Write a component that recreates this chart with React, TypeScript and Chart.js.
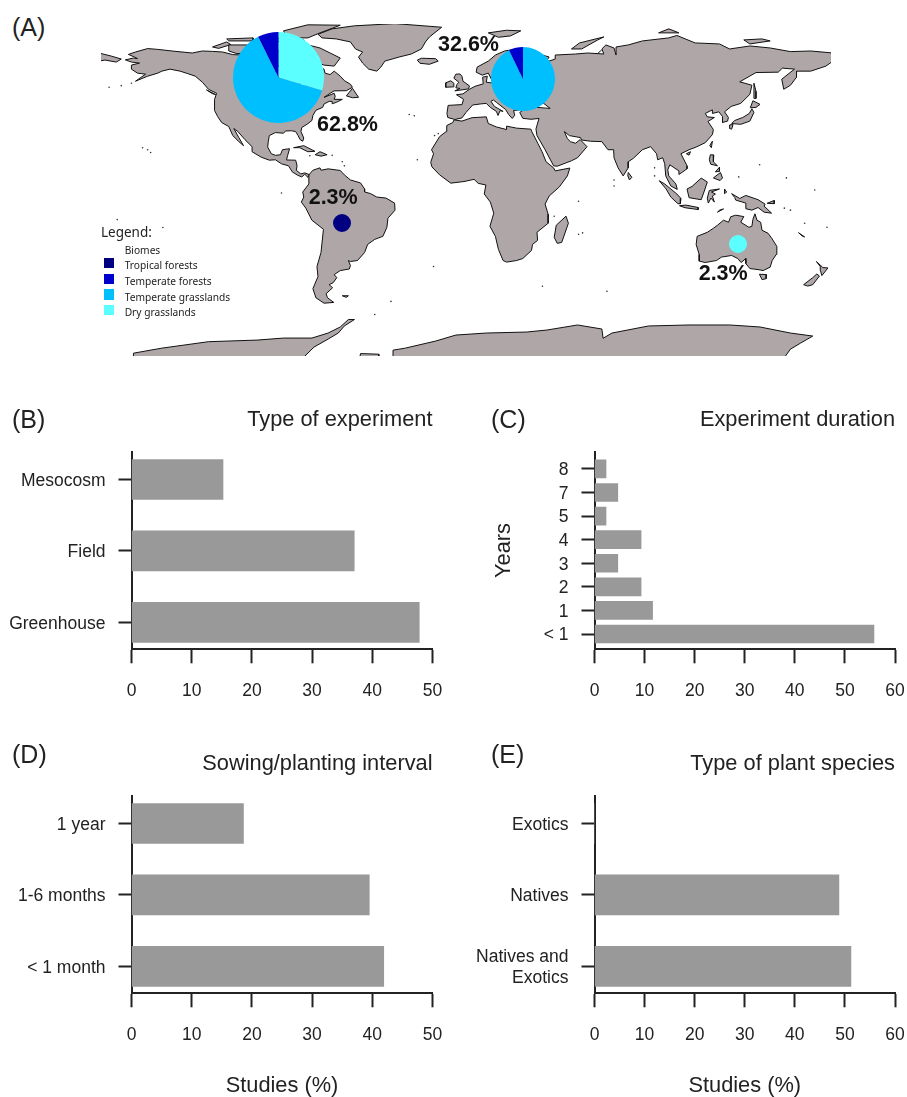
import React, { useEffect, useRef } from "react";
import { Chart, registerables } from "chart.js";

Chart.register(...registerables);

// ---------- data: bar panels ----------
const experimentTypes = ["Greenhouse", "Field", "Mesocosm"];
const experimentTypeValues = [47.8, 37.0, 15.2];
const durationYears = ["< 1", "1", "2", "3", "4", "5", "7", "8"];
const durationValues = [55.8, 11.6, 9.3, 4.65, 9.3, 2.3, 4.65, 2.3];
const intervals = ["< 1 month", "1-6 months", "1 year"];
const intervalValues = [41.9, 39.5, 18.6];
const plantTypes = ["Natives and\nExotics", "Natives", "Exotics"];
const plantTypeValues = [51.2, 48.8, 0];

// ---------- data: biome pies ----------
const biomeNames = ["Tropical forests", "Temperate forests", "Temperate grasslands", "Dry grasslands"];
const northAmericaPieBiomes = ["Dry grasslands", "Temperate grasslands", "Temperate forests"];
const northAmericaPieCounts = [8, 17, 2];
const europePieBiomes = ["Temperate grasslands", "Temperate forests"];
const europePieCounts = [13, 1];
const southAmericaPieBiomes = ["Tropical forests"];
const southAmericaPieCounts = [1];
const australiaPieBiomes = ["Dry grasslands"];
const australiaPieCounts = [1];

// ---------- data: map outlines [lon, lat] ----------
const northAmerica = [[-168,65.6],[-164,66.5],[-162,66.2],[-163.5,67],[-166.5,68.3],[-163,69.5],[-157,71.2],[-152,70.8],[-145,70],[-141,69.6],[-135,69],[-130,70],[-125,69.8],[-120,69.5],[-115,68.2],[-110,68],[-105,68.2],[-100,68],[-96,68.5],[-95,71.5],[-92,69.8],[-88,68.5],[-85,69.5],[-82,69.5],[-81.5,67.5],[-86,66.5],[-87,65],[-90,64],[-93,62],[-94.5,59],[-92.5,57],[-88,56.5],[-85,55.3],[-82.3,55],[-82,52.9],[-80,51.3],[-79,52],[-79,54.5],[-77,56],[-78,58.5],[-77.5,60.5],[-78,62.4],[-73.5,62.4],[-70,61],[-69.5,59],[-67,58.3],[-65,60],[-62,57.5],[-60,55.3],[-57,53.5],[-56,52],[-59,50.3],[-65,50.2],[-67,49],[-70,47],[-65,49],[-64.5,47.5],[-65,46],[-61,46],[-64,44.5],[-66,43.8],[-66,45],[-67.5,45],[-70,43.7],[-70.7,42],[-74,40.6],[-75.5,38],[-76,35.5],[-78,33.9],[-81,32],[-81.4,30],[-80,26.8],[-80.5,25.2],[-81.8,26],[-82.8,28],[-84,30],[-86,30.4],[-89,30.3],[-90,29.2],[-94,29.5],[-97,28],[-97.5,25],[-97.8,22.3],[-96,19],[-94,18.2],[-91.5,18.5],[-90.5,21],[-87,21.5],[-88,18],[-88.5,15.9],[-84,15.8],[-83.3,13],[-83.7,10.8],[-81.5,9],[-79.5,9.5],[-77.4,8.7],[-77.9,7.2],[-79.5,8.8],[-81,7.5],[-83,8.3],[-85.7,10],[-87.5,13],[-91,14],[-94,16],[-97,15.8],[-101,17.3],[-105.5,20],[-105.5,22.5],[-109,26],[-112.5,30],[-114.5,31.5],[-112,27],[-109.7,23],[-112,25],[-115,28],[-117,32.5],[-120.5,34.5],[-122.5,37.5],[-124,40.5],[-124,46],[-123,49],[-127,51],[-130,54.5],[-133.5,57.5],[-137,58.7],[-141,60],[-146,61],[-150,60],[-152,59],[-157,57.5],[-163,55],[-158,58.5],[-162,59],[-165,61],[-165,63],[-161,64],[-165,64.5]];
const greenland = [[-73,78.3],[-66,81],[-55,82.5],[-35,83.6],[-12,81.8],[-18,77],[-20,74.5],[-22,71],[-27,68.5],[-33,67],[-40,65],[-42,62],[-44,60],[-48,61],[-51,64],[-53,67],[-51,69.5],[-54.5,71],[-57,74.5],[-64,76],[-71,76.5]];
const baffin = [[-80,73.5],[-72,71.5],[-67,69],[-62,66.5],[-65,62.5],[-70,63],[-74,64.5],[-78,65],[-73,68],[-80,70],[-89,71.5],[-85,73.5]];
const victoria = [[-117,73],[-105,73],[-101,69.5],[-113,68.7],[-117,70]];
const banks = [[-125,72],[-118,74.5],[-116,73.2],[-122,71.3]];
const ellesmere = [[-90,80],[-78,83],[-62,82.8],[-72,79],[-78,76.5],[-88,76.5]];
const devon = [[-96,76.5],[-80,75.5],[-80,74.5],[-92,74.5]];
const melville = [[-118,76],[-105,76.5],[-105,75],[-117,75]];
const southampton = [[-87,65.5],[-81,64],[-85,62.8]];
const newfoundland = [[-59,47.7],[-56,51.5],[-53,47],[-56,46.8]];
const cuba = [[-85,22],[-80,23],[-74.5,20.2],[-78,20],[-82,22]];
const hispaniola = [[-74.4,18.5],[-72,20],[-68.5,18.5],[-71.5,17.8]];
const vancouver = [[-128,50.7],[-123.5,48.4],[-125,48.8]];
const southAmerica = [[-77.5,8.5],[-75.5,10.8],[-72,12],[-71.5,10.8],[-68,11.5],[-62,10.7],[-60,8.5],[-57,6],[-52,4.5],[-50,1.5],[-50,0],[-47,-0.8],[-44,-2.5],[-39.5,-3],[-35.2,-5.5],[-35,-9],[-38.5,-13],[-39,-17.5],[-41,-22],[-45,-23.5],[-48.5,-26],[-50,-30],[-53.5,-34],[-57,-34.5],[-58,-34],[-57,-36.5],[-57.5,-38.2],[-62,-39],[-65,-41],[-63.7,-42.5],[-65.5,-45],[-67.5,-46],[-65.8,-47.5],[-69,-50.5],[-68.3,-52.5],[-65.2,-54.8],[-70,-55.2],[-74,-52.5],[-75.5,-48],[-73,-42],[-73.5,-37],[-71.5,-30],[-70.3,-18.5],[-76,-14],[-79,-8],[-81.2,-5],[-80,-2.5],[-80.5,0],[-77.5,4],[-77.5,7]];
const falklands = [[-61,-51.5],[-58,-51.5],[-59,-52.3]];
const africa = [[-5.9,35.8],[-2,35.2],[3,36.9],[10,37.3],[11,34],[15,32.3],[20,31],[20,32.7],[25,31.7],[32,31.2],[32.5,29.9],[35.5,24],[37.5,20],[39.5,15],[43.2,12],[44,10.5],[51.2,11.9],[50,8],[46,2.5],[41,-2],[39,-6],[40.5,-11],[40.5,-15.5],[35,-20],[35.3,-24],[32.8,-26],[32.3,-29],[28,-33],[25,-34],[20,-34.8],[18.3,-34],[16,-28.5],[14.5,-22],[11.8,-17],[13.7,-10.5],[12,-5],[9,-1],[9.8,3.5],[6,4.3],[4,6.3],[-1,5.2],[-7.5,4.4],[-13,8.5],[-16.8,12.5],[-17.4,14.7],[-16,19],[-17,21],[-13,27.5],[-9.8,30],[-9.5,33],[-6.5,34.5]];
const eurasia = [[-5.5,36],[-9,37],[-9.4,39],[-8.8,43],[-2,43.4],[-1.2,46],[-4.7,48.3],[-1.5,48.7],[1.5,50.9],[4.5,52.5],[8.5,53.7],[8.2,57],[10.5,57.5],[10,54.5],[14,54],[19,54.5],[21,56.5],[24,57.5],[24,59.3],[30,60],[23,60],[21.3,61],[21.5,63],[25.5,65.2],[22,65.7],[17.5,62],[18.5,60],[16.5,57],[14.3,55.5],[12.5,56],[11,59],[8,58],[5,59.5],[5.5,62],[11,65],[14.5,68],[19,70],[25,71],[31,70],[41,67],[40,65.5],[35,64.3],[38,64],[44,66],[44,68],[54,68.5],[60,69],[68,68.5],[67,71],[69,73],[73,71.5],[74,68],[74,72],[80,73],[87,75],[100,76.5],[104,77.7],[113,74],[125,73.5],[130,71],[140,72.5],[150,71.5],[160,69.7],[170,70],[181,69],[181,65],[177.5,62.5],[170,60],[163,60],[163,57],[160,53],[156.7,51],[155.7,56],[162,61],[156,61.5],[154,59.5],[143,59.3],[135,54.7],[141,53],[140,48.5],[135.5,44],[130.8,42.5],[127.5,39.8],[129.4,37],[129,35.2],[126.4,34.5],[126.5,37.5],[124.7,39.8],[121.5,39],[121.5,40.8],[118,39],[119,37.3],[122.5,37],[119.3,35],[122,31],[121.5,28.5],[118,24.5],[113.5,22.3],[110,21],[106,19],[109,13],[109,11.5],[105,8.7],[105,10.5],[100.5,13.5],[99.5,11],[100,8],[103.5,4],[104.2,1.3],[101,3],[98.5,8],[98,14],[97,17],[94.5,16],[94,19],[91,22.5],[87,21],[82.5,16.7],[80,15],[80,12],[77.5,8],[75,12],[73,17],[72.8,21],[70,21],[67,25],[61.5,25.2],[57,25.8],[56.5,27],[51,28],[48.5,30],[50,26.5],[51.5,25],[54,24.2],[56.3,26],[59.7,22.5],[55,17],[52,15.5],[45,12.8],[43.2,13],[39,21],[35,28],[34.5,31.3],[36,36.5],[32,36.1],[28,36.6],[26.5,39.5],[29,41.2],[35,42],[41.5,41.5],[37,45],[38.5,47],[35,46],[33,45],[31,46.5],[28.5,43.5],[28.5,41.3],[26,40.7],[23.5,40.5],[24,38],[22.8,36.5],[21,38.5],[19.5,41],[15,44.5],[13.5,45.7],[12.3,45],[14,42.5],[18.3,40],[16.8,40.4],[15.8,38],[15,40],[12,42],[10,44],[7,43.7],[3.3,43.2],[0,39.5],[-2,36.8]];
const chukotka = [[-181,69],[-175,67.5],[-170,66],[-172.5,64.5],[-178,65.5],[-181,65]];
const greatBritain = [[-5.5,50.2],[1.3,51.2],[1.7,52.7],[-1.5,55],[-2,57.5],[-3,58.6],[-5,58.5],[-6,56.5],[-3.5,54.5],[-4.5,53.3],[-5,51.7],[-3,51.4]];
const ireland = [[-10,52],[-6.2,52.2],[-6,54],[-7.5,55.2],[-10,54.2]];
const iceland = [[-24,65.5],[-22,66.4],[-15,66.2],[-13.7,65],[-18,63.4],[-22.7,63.9]];
const svalbard = [[11,79],[20,80.3],[27,80],[22,77.5],[16,76.8]];
const novayaZemlya = [[52,71],[56,74],[68,77],[65,75.5],[57,71]];
const severnaya = [[95,79],[105,79],[100,81]];
const newSiberian = [[137,75.5],[146,76],[150,75],[140,73.5]];
const sakhalin = [[142,54],[143,50],[143,46.5],[142,46.5],[142,50]];
const honshu = [[131,34],[135.5,33.6],[140,35.2],[142,39.5],[141,41.3],[139.7,39],[136.5,37],[132.5,35.5]];
const hokkaido = [[140.2,41.8],[141.5,45.3],[145,43.5],[143,42]];
const kyushu = [[130,33.3],[131.7,33.5],[131,31.2],[130,31.5]];
const taiwan = [[120.2,23],[121.5,25.2],[121,22]];
const hainan = [[108.7,19],[110.7,20],[110,18.3]];
const sriLanka = [[79.8,8],[80,9.7],[81.8,7.3],[80.6,6]];
const sumatra = [[95.3,5.6],[98,4],[104,-1],[106,-3.2],[105.7,-5.8],[104.5,-5.8],[101,-2.5],[98.7,1.5]];
const java = [[105.3,-6.8],[108.5,-6.5],[114.5,-7.7],[114.5,-8.7],[108,-7.8]];
const borneo = [[109,1.5],[111.5,2.8],[116,6.9],[119,5],[117.7,1],[116,-3.8],[114,-3.5],[110,-2.8]];
const sulawesi = [[119.5,-5.5],[119,-3],[120,0.8],[125,1.5],[121,0],[123,-1],[121.5,-2],[122.5,-5],[120.8,-3]];
const newGuinea = [[131,-0.8],[135,-3.2],[138,-1.7],[144,-3.8],[147.5,-6],[147,-7],[150.7,-10.5],[147,-10],[144,-7.7],[141,-9],[138,-8.3],[138,-5.5],[133,-4],[132.5,-2.7]];
const luzon = [[120.5,18.5],[122.2,18.4],[122,15],[124,13],[120.7,13.8],[120,16]];
const mindanao = [[122,7],[125.5,9.7],[126.5,7],[125.3,5.7]];
const visayas = [[123,10],[125,12.3],[125,10.3]];
const timor = [[124,-10],[127,-8.4],[125,-9]];
const halmahera = [[127.5,1.5],[128.5,0],[127.7,-0.8]];
const newBritain = [[148.5,-5.6],[152,-4.2],[152,-5.8]];
const newCaledonia = [[164,-20.2],[167,-22.3],[166,-22]];
const australia = [[114,-22],[113.5,-26],[115,-31],[115,-34.3],[118,-35],[123.5,-34],[126,-32.3],[131,-31.5],[134,-33],[135.7,-35],[138,-33],[138,-35.5],[140,-38],[144,-38.5],[146.5,-39],[150,-37.3],[151,-34],[153,-31],[153.3,-27],[150.8,-23],[149,-20.5],[146,-19],[145.3,-15],[143.5,-14],[142.5,-10.8],[141.5,-13.5],[141,-17],[139.5,-17.5],[135.5,-15],[137,-12.2],[133,-11.5],[130.5,-12.3],[129.5,-15],[127,-14],[124,-16.5],[122,-18],[119,-20]];
const tasmania = [[144.7,-40.8],[148.2,-41],[148,-43],[146,-43.5]];
const newZealandSouth = [[166.5,-46],[171,-42.5],[173,-40.7],[174.3,-41.7],[171,-46],[168.5,-46.7]];
const newZealandNorth = [[172.8,-34.5],[176,-37.5],[178.5,-37.7],[175.5,-41.5],[174.8,-39],[174.7,-37]];
const madagascar = [[49.3,-12],[50.5,-15.5],[47.2,-25],[45,-25.5],[43.5,-22.5],[44.5,-16.5]];
const antarcticaWest = [[-164,-85],[-164,-80],[-150,-77.5],[-127,-74.3],[-103,-73.5],[-90,-72.5],[-76,-72.5],[-68,-70],[-62,-67],[-58,-63.3],[-55,-63.3],[-60,-66.5],[-63,-70],[-68,-73],[-75,-77],[-83,-85]];
const filchnerShelf = [[-53,-85],[-52,-80.2],[-43,-80.5],[-43,-85]];
const antarcticaEast = [[-36,-85],[-36,-78.5],[-30,-77.5],[-15,-74],[-5,-71],[10,-70],[30,-69.5],[40,-68.5],[55,-66],[67,-68],[67.6,-72.6],[72,-70],[90,-66.5],[110,-66],[130,-66],[145,-67],[160,-70],[171,-71.5],[165,-75],[160,-78],[155,-85]];
const landMasses = [northAmerica, greenland, baffin, victoria, banks, ellesmere, devon, melville, southampton, newfoundland, cuba, hispaniola, vancouver, southAmerica, falklands, africa, eurasia, chukotka, greatBritain, ireland, iceland, svalbard, novayaZemlya, severnaya, newSiberian, sakhalin, honshu, hokkaido, kyushu, taiwan, hainan, sriLanka, sumatra, java, borneo, sulawesi, newGuinea, luzon, mindanao, visayas, timor, halmahera, newBritain, newCaledonia, australia, tasmania, newZealandSouth, newZealandNorth, madagascar, antarcticaWest, filchnerShelf, antarcticaEast];
const europeAsiaDivide = [[66.9,70.5],[59.5,63.9],[57.9,55.6],[61,51.5],[48.8,51.4],[46.4,47.3],[48.8,42.3],[41.5,41.5]];
const smallIslands = [[-155.5,19.6],[-157,21],[-159.5,22],[-28,38.5],[-25.5,37.8],[-15.5,28],[-13.7,29],[-24,16],[-91,-0.5],[69.5,-49.3],[55.5,-21],[57.5,-20.3],[43.5,-12],[55.5,-4.6],[-37,-54.3],[178,-17.5],[-172,-13.7],[73,3],[73,6],[-176,52],[-170,52.8],[-165,54],[-60,13],[-61,15],[-66,18.2],[-77,18],[-45,-60.8],[-16,-37],[37.7,-46.8],[160,-9],[157,-8],[167,-15.5],[-149.5,-17.6],[144.8,13.5],[134.5,7.5],[158,7],[172,1],[93,12],[93,8]];

// ---------- styles / layout ----------
const INK = "#222222";
const SANS = "'Liberation Sans', Arial, sans-serif";
const LAND = "#AFA6A8";
const BIOME_COLORS: Record<string, string> = {
  "Tropical forests": "#000080",
  "Temperate forests": "#0000CD",
  "Temperate grasslands": "#00BFFF",
  "Dry grasslands": "#5CFFFF",
};

type Panel = {
  title: string; cats: string[]; vals: number[]; xMax: number;
  left: number; top: number; width: number; height: number;
  axisLeft: number; axisRight: number; xBlock: number;
  yMin: number; yMax: number; thickness: number;
  yTitle?: string; xTitle?: string;
};

const Y3 = { yMin: 0.622, yMax: 3.389, thickness: 40 };
const panels: Panel[] = [
  { title: "Type of experiment", cats: experimentTypes, vals: experimentTypeValues, xMax: 50, left: 0, top: 395, width: 455, height: 320, axisLeft: 131.5, axisRight: 432.5, xBlock: 65.7, ...Y3 },
  { title: "Experiment duration", cats: durationYears, vals: durationValues, xMax: 60, left: 480, top: 395, width: 427, height: 320, axisLeft: 114.5, axisRight: 415, xBlock: 65.7, yMin: 0.352, yMax: 8.725, thickness: 18, yTitle: "Years" },
  { title: "Sowing/planting interval", cats: intervals, vals: intervalValues, xMax: 50, left: 0, top: 739, width: 455, height: 358, axisLeft: 131.5, axisRight: 432.5, xBlock: 103.7, xTitle: "Studies (%)", ...Y3 },
  { title: "Type of plant species", cats: plantTypes, vals: plantTypeValues, xMax: 60, left: 457, top: 739, width: 450, height: 358, axisLeft: 137.5, axisRight: 438, xBlock: 103.7, xTitle: "Studies (%)", ...Y3 },
];

const pies = [
  { biomes: northAmericaPieBiomes, counts: northAmericaPieCounts, cx: 278.7, cy: 77.7, r: 45.5 },
  { biomes: europePieBiomes, counts: europePieCounts, cx: 523, cy: 79, r: 32 },
  { biomes: southAmericaPieBiomes, counts: southAmericaPieCounts, cx: 342.3, cy: 223, r: 9 },
  { biomes: australiaPieBiomes, counts: australiaPieCounts, cx: 738.3, cy: 244.3, r: 9 },
];

const mapLabels = [
  { text: "62.8%", x: 317, y: 125 },
  { text: "32.6%", x: 438, y: 45 },
  { text: "2.3%", x: 308.7, y: 198 },
  { text: "2.3%", x: 698.7, y: 274 },
];
const panelLetters = [
  { text: "(A)", x: 12, y: 27 }, { text: "(B)", x: 12, y: 419 }, { text: "(C)", x: 491, y: 419 },
  { text: "(D)", x: 12, y: 754 }, { text: "(E)", x: 491, y: 754 },
];

const toXY = (pts: number[][]) => pts.map(([x, y]) => ({ x, y }));
const closed = (pts: number[][]) => toXY([...pts, pts[0]]);

function makeBarChart(canvas: HTMLCanvasElement, p: Panel) {
  const tickFont = { family: SANS, size: 17.5 };
  const titleFont = { family: SANS, size: 21.8, weight: "normal" as const };
  return new Chart(canvas, {
    type: "bar",
    data: {
      datasets: [{
        label: p.title,
        data: p.vals.map((v, i) => ({ x: v, y: i + 1 })),
        backgroundColor: "#999999",
        borderWidth: 0,
        barThickness: p.thickness,
      }],
    },
    options: {
      animation: false, responsive: false, maintainAspectRatio: false, indexAxis: "y", events: [],
      layout: { autoPadding: false, padding: { left: 0, top: 0, bottom: 0, right: p.width - p.axisRight } },
      plugins: {
        legend: { display: false }, tooltip: { enabled: false },
        title: {
          display: true, text: p.title, align: "end", fullSize: false, color: INK,
          font: { ...titleFont, lineHeight: 1.2 }, padding: { top: 11.6, bottom: 19 },
        },
      },
      scales: {
        x: {
          type: "linear", min: 0, max: p.xMax,
          afterFit: (s: any) => { s.height = p.xBlock; s.paddingLeft = s.paddingRight = s.paddingTop = s.paddingBottom = 0; },
          border: { color: INK, width: 2 },
          grid: { drawOnChartArea: false, tickLength: 14, tickWidth: 2, tickColor: INK },
          ticks: { stepSize: 10, color: INK, font: tickFont, padding: 17.5, maxRotation: 0 },
          title: p.xTitle
            ? { display: true, text: p.xTitle, color: INK, font: { ...titleFont, lineHeight: 1 }, padding: 0 }
            : { display: false },
        },
        y: {
          type: "linear", min: p.yMin, max: p.yMax, offset: false,
          afterBuildTicks: (s: any) => { s.ticks = p.cats.map((_, i) => ({ value: i + 1 })); },
          afterFit: (s: any) => { s.width = p.axisLeft; s.paddingLeft = s.paddingRight = s.paddingTop = s.paddingBottom = 0; },
          border: { color: INK, width: 2 },
          grid: { offset: false, drawOnChartArea: false, tickLength: 13, tickWidth: 2, tickColor: INK },
          ticks: {
            autoSkip: false, color: INK, font: tickFont, padding: 13, labelOffset: 1.5,
            callback: (v: any) => p.cats[Math.round(v) - 1]?.split("\n"),
          },
          title: p.yTitle
            ? { display: true, text: p.yTitle, color: INK, font: { ...titleFont, lineHeight: 1.2 }, padding: { top: 11, bottom: 0 } }
            : { display: false },
        },
      },
    },
  } as any);
}

function makeMap(canvas: HTMLCanvasElement) {
  const land = landMasses.map((pts, i) => ({
    label: `land ${i}`, data: closed(pts), showLine: true, fill: "shape",
    backgroundColor: LAND, borderColor: "#111111", borderWidth: 1, pointRadius: 0, tension: 0,
  }));
  return new Chart(canvas, {
    type: "scatter",
    data: {
      datasets: [
        ...land,
        { label: "divide", data: toXY(europeAsiaDivide), showLine: true, fill: false, borderColor: "#111111", borderWidth: 1, pointRadius: 0 },
        { label: "small islands", data: toXY(smallIslands), showLine: false, pointRadius: 0.8, backgroundColor: "#333333", borderWidth: 0 },
      ],
    },
    options: {
      animation: false, responsive: false, maintainAspectRatio: false, events: [],
      layout: { autoPadding: false, padding: 0 },
      plugins: { legend: { display: false }, tooltip: { enabled: false } },
      scales: {
        x: { type: "linear", min: -180, max: 180, display: false },
        y: { type: "linear", min: -81.4, max: 83.4, display: false },
      },
    },
  } as any);
}

function makePie(canvas: HTMLCanvasElement, biomes: string[], counts: number[]) {
  return new Chart(canvas, {
    type: "pie",
    data: {
      labels: biomes,
      datasets: [{ data: counts, backgroundColor: biomes.map((b) => BIOME_COLORS[b]), borderWidth: 0 }],
    },
    options: {
      animation: false, responsive: false, maintainAspectRatio: false, events: [],
      layout: { autoPadding: false, padding: 0 },
      plugins: { legend: { display: false }, tooltip: { enabled: false } },
    },
  } as any);
}

const abs = (x: number, y: number): React.CSSProperties => ({ position: "absolute", left: x, top: y });
const centeredText = (x: number, y: number, size: number, extra: React.CSSProperties = {}): React.CSSProperties => ({
  position: "absolute", left: x, top: y - size * 0.6, fontSize: size, lineHeight: `${size * 1.2}px`, whiteSpace: "nowrap", color: INK, ...extra,
});

const legendRows = [265, 281, 296.7, 312];
const LEGEND_FONT = "'Noto Sans', sans-serif";

export default function App() {
  const mapRef = useRef<HTMLCanvasElement>(null);
  const panelRefs = useRef<(HTMLCanvasElement | null)[]>([]);
  const pieRefs = useRef<(HTMLCanvasElement | null)[]>([]);

  useEffect(() => {
    const charts: Chart[] = [];
    charts.push(makeMap(mapRef.current!));
    panels.forEach((p, i) => charts.push(makeBarChart(panelRefs.current[i]!, p)));
    pies.forEach((p, i) => charts.push(makePie(pieRefs.current[i]!, p.biomes, p.counts)));
    return () => charts.forEach((c) => c.destroy());
  }, []);

  return (
    <div style={{ position: "absolute", left: 0, top: 0, width: 907, height: 1097, background: "#fff", overflow: "hidden", fontFamily: SANS }}>
      <canvas ref={mapRef} width={730} height={332} style={{ ...abs(101, 24), width: 730, height: 332 }} />
      {pies.map((p, i) => (
        <canvas key={i} ref={(el) => { pieRefs.current[i] = el; }} width={p.r * 2} height={p.r * 2}
          style={{ ...abs(p.cx - p.r, p.cy - p.r), width: p.r * 2, height: p.r * 2 }} />
      ))}
      {panels.map((p, i) => (
        <canvas key={i} ref={(el) => { panelRefs.current[i] = el; }} width={p.width} height={p.height}
          style={{ ...abs(p.left, p.top), width: p.width, height: p.height }} />
      ))}
      {mapLabels.map((l, i) => (
        <div key={i} style={centeredText(l.x, l.y, 21.5, { fontWeight: 700, color: "#111" })}>{l.text}</div>
      ))}
      {panelLetters.map((l) => (
        <div key={l.text} style={centeredText(l.x, l.y, 25)}>{l.text}</div>
      ))}
      <div style={centeredText(101, 231.7, 13.5, { fontFamily: LEGEND_FONT })}>Legend:</div>
      <div style={centeredText(124.7, 250, 10.2, { fontFamily: LEGEND_FONT })}>Biomes</div>
      {biomeNames.map((b, i) => (
        <React.Fragment key={b}>
          <div style={{ ...abs(103.7, legendRows[i] - 7.5), width: 10, height: 10.5, background: BIOME_COLORS[b] }} />
          <div style={centeredText(124.7, legendRows[i], 10.2, { fontFamily: LEGEND_FONT })}>{b}</div>
        </React.Fragment>
      ))}
    </div>
  );
}
